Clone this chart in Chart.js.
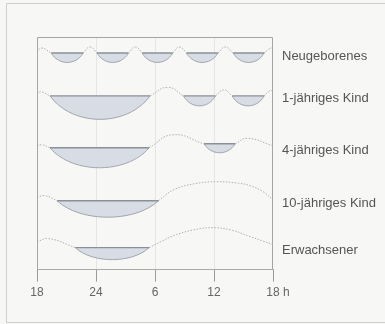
<!DOCTYPE html>
<html><head><meta charset="utf-8">
<script src="https://cdn.jsdelivr.net/npm/chart.js@4"></script>
<style>
html,body{margin:0;padding:0;background:#f7f7f5;}
#wrap{position:relative;width:385px;height:324px;overflow:hidden;}
#frame{position:absolute;left:6px;top:3px;width:420px;height:320px;border:1px solid #cfcfcc;box-sizing:border-box;}
canvas{position:absolute;left:0;top:0;}
</style></head><body>
<div id="wrap"><div id="frame"></div><canvas id="c" width="385" height="324"></canvas></div>
<script>
// x values: hours after 18:00 (0..24)
const tickHours = [0, 6, 12, 18, 24];
const tickLabels = ['18', '24', '6', '12', '   18 h'];
const rowLabels = ['Neugeborenes', '1-jähriges Kind', '4-jähriges Kind', '10-jähriges Kind', 'Erwachsener'];
const rowLevels = [217, 174, 122, 69, 22];

// sleep episodes: [start, end, depth, raise]
const sleepNeugeborenes = [[1.45,4.7,9.5,0],[6.1,9.3,9.5,0],[10.7,13.8,9.5,0],[15.2,18.4,9.5,0],[19.95,23.1,9.5,0]];
const sleep1Jahr = [[1.32,11.5,23.5,0],[14.9,18.15,10,0],[19.85,23.1,10,0]];
const sleep4Jahre = [[1.32,11.4,20,0],[17.0,20.15,9,4]];
const sleep10Jahre = [[2.05,12.35,16.5,0]];
const sleepErwachsen = [[3.9,11.4,12,0]];

// waking curves: lists of [hour, height above row level]
const wakeNeugeborenes = [[[0,1],[0.45,5],[1.45,0]],[[4.7,0],[5.4,6],[6.1,0]],[[9.3,0],[10,6],[10.7,0]],[[13.8,0],[14.5,6],[15.2,0]],[[18.4,0],[19.15,6],[19.95,0]],[[23.1,0],[23.6,4],[24,5.5]]];
const wake1Jahr = [[[0,1.5],[0.4,4],[1.32,0]],[[11.5,0],[13.3,8.5],[14.9,0]],[[18.15,0],[19,6],[19.85,0]],[[23.1,0],[23.6,4.5],[24,6]]];
const wake4Jahre = [[[0,2],[0.5,3],[1.32,0]],[[11.4,0],[13.8,13],[17.0,4]],[[20.15,4],[21.4,9.5],[24,2]]];
const wake10Jahre = [[[0,3.5],[0.8,5],[2.05,0]],[[12.35,0],[13.9,11],[16,17],[18.3,19],[20.5,17.5],[21.7,15],[23,9],[24,1]]];
const wakeErwachsen = [[[0,6],[1.2,9],[3.9,0]],[[11.4,0],[12.6,6],[13.9,12],[15.8,17.5],[17.8,20],[19.8,17.5],[21.7,11],[23,6.5],[24,3]]];

const sleepRows = [sleepNeugeborenes, sleep1Jahr, sleep4Jahre, sleep10Jahre, sleepErwachsen];
const wakeRows = [wakeNeugeborenes, wake1Jahr, wake4Jahre, wake10Jahre, wakeErwachsen];

// bowl outline of a sleep episode (rounded segment under the chord)
const bowlSteps = [-1, -0.9, -0.7, -0.4, 0, 0.4, 0.7, 0.9, 1];
const bowlK = 0.75;
const bowlDepth = u => (Math.sqrt(1 - bowlK*u*u) - Math.sqrt(1 - bowlK)) / (1 - Math.sqrt(1 - bowlK));

const datasets = [];
sleepRows.forEach((row, i) => {
  row.forEach(([s, e, d, r]) => {
    const lvl = rowLevels[i] + r;
    const mid = (s + e) / 2, half = (e - s) / 2;
    datasets.push({
      data: bowlSteps.map(u => ({x: mid + u*half, y: lvl - d*bowlDepth(u)})),
      showLine:true, cubicInterpolationMode:'monotone', borderColor:'#a0a6ad', borderWidth:1,
      backgroundColor:'#d8dde5', fill:{value:lvl}, pointRadius:0, order:1
    });
    datasets.push({
      data: [{x:s,y:lvl},{x:e,y:lvl}],
      showLine:true, borderColor:'#8a9096', borderWidth:1.4, fill:false, pointRadius:0, order:0
    });
  });
});
wakeRows.forEach((row, i) => {
  row.forEach(curve => {
    datasets.push({
      data: curve.map(([h, dy]) => ({x:h, y:rowLevels[i] + dy})),
      showLine:true, tension:curve.length > 3 ? 0.4 : 0.5, borderColor:'#b0b0b0', borderWidth:1, borderDash:[1.5,1.5],
      fill:false, pointRadius:0, order:2
    });
  });
});

const framePlugin = {
  id:'frame',
  beforeDatasetsDraw(chart){
    const {ctx, chartArea:a} = chart;
    ctx.save();
    ctx.strokeStyle = '#a5a5a5'; ctx.lineWidth = 1;
    ctx.beginPath();
    ctx.moveTo(Math.round(a.left)+0.5, a.bottom);
    ctx.lineTo(Math.round(a.left)+0.5, Math.round(a.top)+0.5);
    ctx.lineTo(Math.round(a.right)-0.5, Math.round(a.top)+0.5);
    ctx.lineTo(Math.round(a.right)-0.5, a.bottom);
    ctx.stroke();
    ctx.restore();
  }
};

Chart.defaults.font.family = '"Liberation Sans", Arial, sans-serif';
new Chart(document.getElementById('c'), {
  type:'scatter',
  data:{datasets},
  options:{
    responsive:false, animation:false, devicePixelRatio:1,
    layout:{padding:{left:37, top:37, right:0, bottom:20}},
    plugins:{legend:{display:false}, tooltip:{enabled:false}},
    scales:{
      x:{
        type:'linear', min:0, max:24,
        afterBuildTicks: s => { s.ticks = tickHours.map(v => ({value:v})); },
        ticks:{ callback:(v,i) => tickLabels[i], color:'#666', font:{size:12}, padding:4, maxRotation:0, autoSkip:false },
        grid:{ color: c => (c.index === 0 || c.index === tickHours.length-1) ? 'rgba(0,0,0,0)' : '#e6e6e6', tickColor:'#9a9a9a', tickLength:12, lineWidth:1 },
        border:{ display:true, color:'#ababab', width:1 }
      },
      y:{
        type:'linear', position:'right', min:0, max:233,
        afterBuildTicks: s => { s.ticks = rowLevels.map(v => ({value:v-3})); },
        afterFit: s => { s.width = 112; },
        ticks:{ callback:(v,i) => rowLabels[i], color:'#555', font:{size:13}, padding:9, crossAlign:'near', autoSkip:false },
        grid:{ display:false, drawTicks:false },
        border:{ display:false }
      }
    }
  },
  plugins:[framePlugin]
});
</script>
</body></html>
